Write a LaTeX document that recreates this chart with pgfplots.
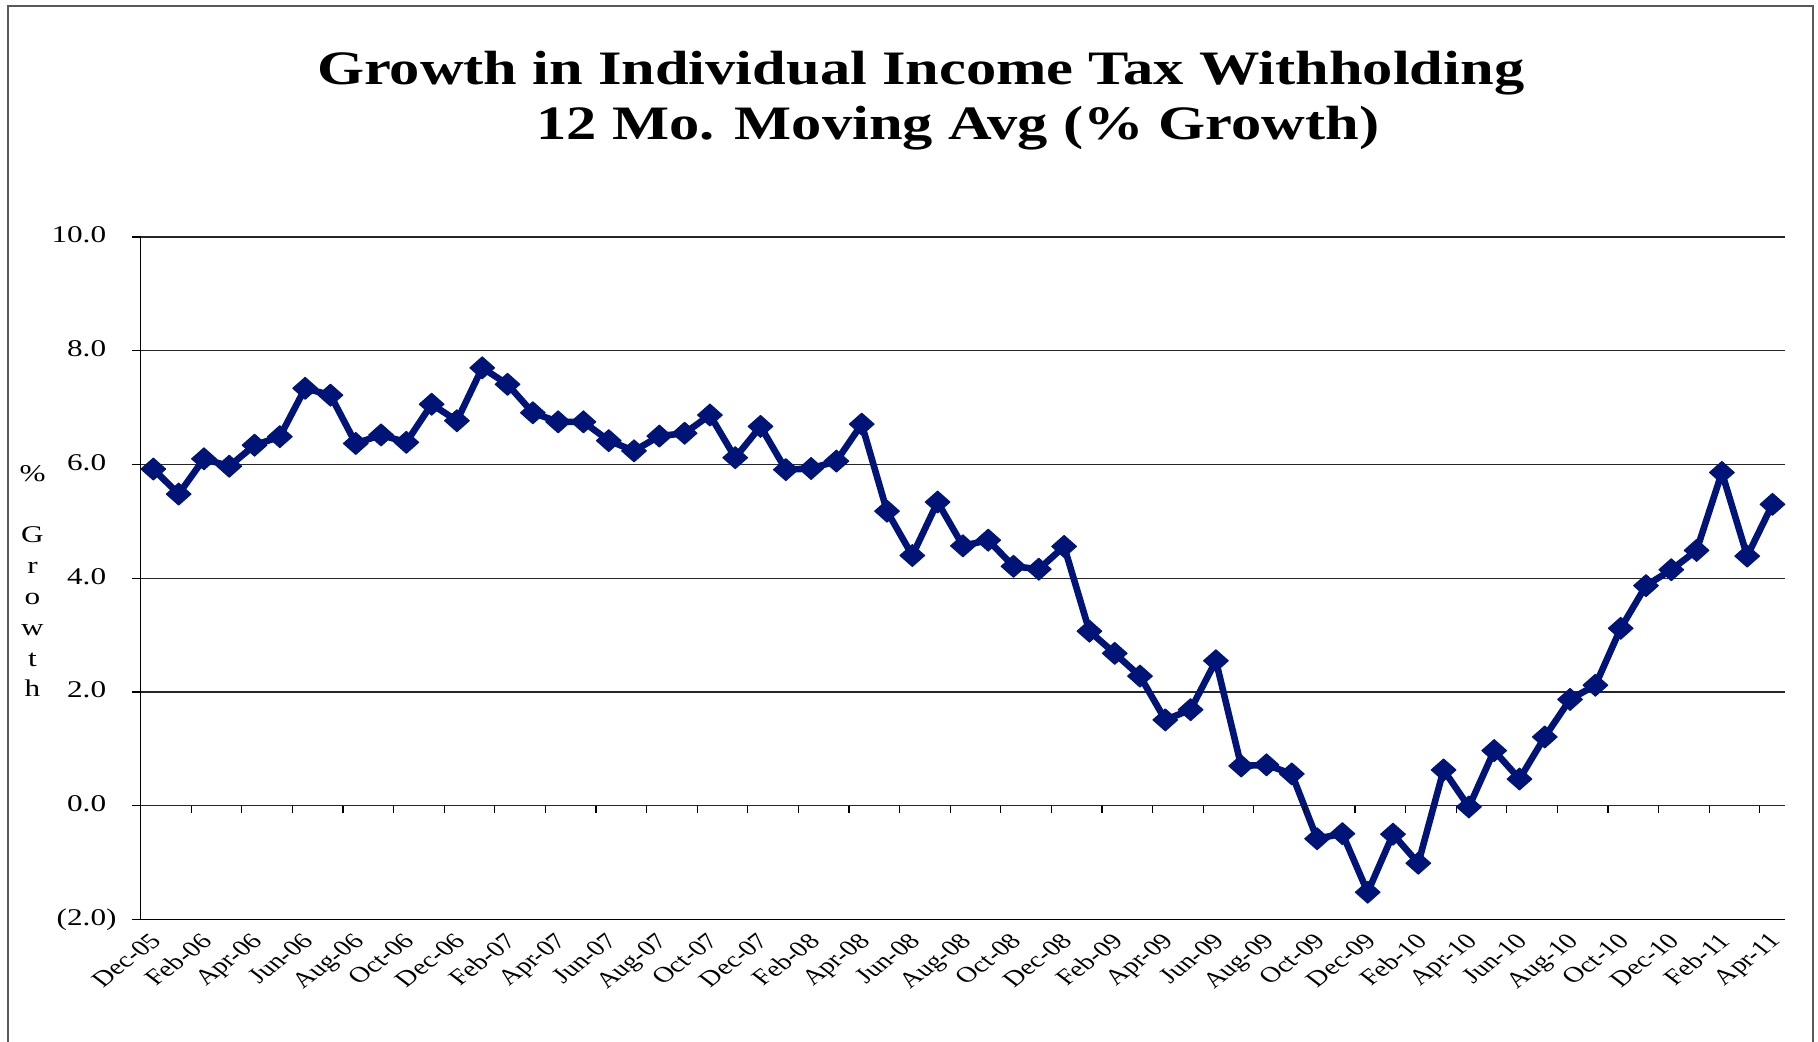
\documentclass[border=0pt]{standalone}
\usepackage{fontspec}
\setmainfont{Liberation Serif}
\usepackage{pgfplots}
\pgfplotsset{compat=1.18}
\definecolor{navyline}{RGB}{0,20,120}
\begin{document}
\begin{tikzpicture}
\useasboundingbox (0,0) rectangle (909pt,-520.5pt);
\draw[line width=1.3pt, black!65] (4pt,-530pt) -- (4pt,-3pt) -- (906.5pt,-3pt) -- (906.5pt,-530pt);
\node[anchor=base, font=\fontsize{24}{28}\selectfont\bfseries, xscale=1.26, inner sep=0pt] at (460.3pt,-42.3pt) {Growth in Individual Income Tax Withholding};
\node[anchor=base, font=\fontsize{24}{28}\selectfont\bfseries, xscale=1.26, inner sep=0pt] at (479pt,-69.6pt) {12 Mo. Moving Avg (\% Growth)};
\node[anchor=north, align=center, font=\fontsize{12}{15.4}\selectfont, xscale=1.3, inner sep=0pt] at (16.25pt,-232.5pt) {\%\\[15.4pt]G\\r\\o\\w\\t\\h};
\begin{axis}[
  at={(70.35pt,-459.75pt)}, anchor=south west,
  scale only axis, width=822.2pt, height=341.25pt,
  xmin=-0.5, xmax=64.5, ymin=-2, ymax=10,
  axis x line*=bottom, axis y line*=left,
  axis line style={black, line width=0.6pt, -},
  ymajorgrids, grid style={black!85, line width=0.6pt},
  ytick={-2,0,...,10},
  yticklabels={(2.0),0.0\phantom{)},2.0\phantom{)},4.0\phantom{)},6.0\phantom{)},8.0\phantom{)},10.0\phantom{)}},
  xtick={0,2,...,64},
  xticklabels={Dec-05,Feb-06,Apr-06,Jun-06,Aug-06,Oct-06,Dec-06,Feb-07,Apr-07,Jun-07,Aug-07,Oct-07,Dec-07,Feb-08,Apr-08,Jun-08,Aug-08,Oct-08,Dec-08,Feb-09,Apr-09,Jun-09,Aug-09,Oct-09,Dec-09,Feb-10,Apr-10,Jun-10,Aug-10,Oct-10,Dec-10,Feb-11,Apr-11},
  tick align=outside,
  major tick length=4.5pt,
  ytick style={black, line width=0.6pt},
  xtick style={draw=none},
  yticklabel style={font=\fontsize{12}{13}\selectfont, xshift=-3pt, xscale=1.3, anchor=east},
  xticklabel style={font=\fontsize{11}{12}\selectfont, inner sep=1pt, xshift=-2pt, cm={0.919,0.707,-0.919,0.707,(0,0)}, anchor=north east},
  xticklabel shift=0pt,
  clip=false,
]
\addplot[navyline, line width=3.3pt, line join=round, mark=diamond*, mark size=5.5pt, mark options={xscale=1.5, fill=navyline, draw=navyline, line width=0.5pt}] coordinates {
(0,5.92) (1,5.48) (2,6.10) (3,5.97) (4,6.34) (5,6.49) (6,7.34) (7,7.22) (8,6.37) (9,6.52)
(10,6.39) (11,7.06) (12,6.77) (13,7.70) (14,7.41) (15,6.91) (16,6.75) (17,6.75) (18,6.42) (19,6.24)
(20,6.50) (21,6.55) (22,6.87) (23,6.12) (24,6.67) (25,5.91) (26,5.93) (27,6.06) (28,6.71) (29,5.18)
(30,4.40) (31,5.34) (32,4.57) (33,4.67) (34,4.21) (35,4.16) (36,4.56) (37,3.07) (38,2.68) (39,2.28)
(40,1.51) (41,1.69) (42,2.55) (43,0.70) (44,0.72) (45,0.56) (46,-0.58) (47,-0.49) (48,-1.52) (49,-0.50)
(50,-1.01) (51,0.63) (52,-0.02) (53,0.97) (54,0.47) (55,1.21) (56,1.87) (57,2.12) (58,3.12) (59,3.87)
(60,4.15) (61,4.49) (62,5.86) (63,4.39) (64,5.30)
};
\pgfplotsinvokeforeach{1.5,3.5,...,63.5}{\draw[black, line width=0.6pt] (axis cs:#1,0) -- ([yshift=-3.5pt]axis cs:#1,0);}
\end{axis}
\end{tikzpicture}
\end{document}
